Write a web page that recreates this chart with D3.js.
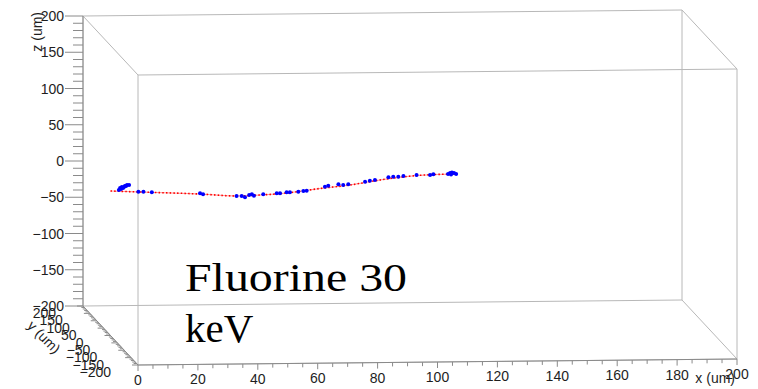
<!DOCTYPE html>
<html><head><meta charset="utf-8">
<script src="https://cdn.jsdelivr.net/npm/d3@7"></script>
<style>html,body{margin:0;padding:0;background:#fff;} svg{display:block;}</style>
</head><body>
<svg id="chart" width="758" height="389"></svg>
<script>
// ---- data ----
const xTickLabels = [0, 20, 40, 60, 80, 100, 120, 140, 160, 180, 200];
const yTickLabels = [-200, -150, -100, -50, 0, 50, 100, 150, 200];
const zTickLabels = [-200, -150, -100, -50, 0, 50, 100, 150, 200];
const axisTitles = ["x (um)", "y (um)", "z (um)"];
const caption = ["Fluorine 30", "keV"];
const trackPlaneY = 0; // depth of the track (um)

// simulated trajectory (red)
const pathX = [0, 9.9, 29.9, 42.2, 49.9, 58.9, 70, 80, 90, 103, 115];
const pathZ = [-0.7, -2.5, -6.1, -9.3, -8.3, -5.9, -0.1, 4.3, 10.8, 16.6, 18];

// deposited hits (blue)
const hitX = [2.8, 3.5, 3.8, 4.5, 4.8, 5.5, 6.2, 4.2, 5.2, 3.2,
  9.3, 11.0, 13.8, 29.9, 30.9, 42.1, 43.8, 44.9, 46.3, 47.2, 47.9, 51.0,
  55.5, 56.6, 58.8, 59.9, 62.7, 64.4, 65.5, 71.6, 72.7, 76.1, 77.7, 79.4,
  85.0, 86.6, 88.3, 92.8, 94.4, 96.1, 97.8, 102.2, 106.7, 107.8,
  112.7, 113.4, 114.0, 114.7, 115.4, 113.7];
const hitZ = [0.6, 1.9, 4.7, 4.6, 6.0, 7.4, 7.3, 3.3, 6.0, 3.3,
  -2.0, -2.1, -3.1, -5.1, -6.5, -9.3, -9.4, -11.3, -8.1, -7.2, -9.2, -7.4,
  -6.2, -6.2, -4.9, -5.0, -4.3, -3.4, -3.0, 2.3, 3.6, 5.4, 4.4, 5.3,
  8.6, 9.9, 10.8, 14.4, 15.1, 15.1, 16.0, 17.1, 17.0, 17.9,
  18.1, 19.5, 20.1, 19.4, 18.0, 17.4];

// ---- projection ----
const svg = d3.select("#chart");
const xScale = d3.scaleLinear().domain([0, 200]).range([0, 599]);
const yScale = d3.scaleLinear().domain([-200, 200]).range([0, 1]);
const zScale = d3.scaleLinear().domain([-200, 200]).range([0, 290]);
const O = [138, 365], depth = [-55, -59], xRise = 6 / 599;
function P(x, y, z) {
  const px = xScale(x), d = yScale(y), pz = zScale(z);
  return [O[0] + px + depth[0] * d, O[1] - px * xRise - pz + depth[1] * d];
}

// ---- box ----
const xs = xScale.domain(), ys = yScale.domain(), zs = zScale.domain();
const edges = [];
for (const y of ys) for (const z of zs) edges.push([[xs[0], y, z], [xs[1], y, z]]);
for (const x of xs) for (const z of zs) edges.push([[x, ys[0], z], [x, ys[1], z]]);
for (const x of xs) for (const y of ys) edges.push([[x, y, zs[0]], [x, y, zs[1]]]);
svg.append("g").selectAll("line").data(edges).join("line")
  .attr("x1", d => P(...d[0])[0]).attr("y1", d => P(...d[0])[1])
  .attr("x2", d => P(...d[1])[0]).attr("y2", d => P(...d[1])[1])
  .attr("stroke", "#b8b8b8").attr("stroke-width", 1);

const axisCol = "#8a8a8a", textCol = "#1e1e1e";
const font = "'Liberation Sans', Arial, Helvetica, sans-serif";
const fs = 14;
const ax = svg.append("g");
const fmt = d => d === 0 ? "0" : (d < 0 ? "\u2212" + (-d) : String(d));

// z axis (back-left vertical)
const zAll = d3.range(-200, 201, 10);
ax.selectAll(".zt").data(zAll).join("line")
  .attr("x1", d => P(0, 200, d)[0]).attr("y1", d => P(0, 200, d)[1])
  .attr("x2", d => P(0, 200, d)[0] - (zTickLabels.includes(d) ? 18 : 10))
  .attr("y2", d => P(0, 200, d)[1])
  .attr("stroke", axisCol);
ax.selectAll(".zl").data(zTickLabels).join("text")
  .attr("x", d => P(0, 200, d)[0] - 19).attr("y", d => P(0, 200, d)[1] + 5)
  .attr("text-anchor", "end").attr("font-family", font).attr("font-size", fs)
  .attr("fill", textCol).text(fmt);
ax.append("text").attr("transform", "translate(42,12) rotate(-90)")
  .attr("text-anchor", "end").attr("font-family", font).attr("font-size", 14)
  .attr("fill", textCol).text(axisTitles[2]);

// x axis (front-bottom)
const xAll = d3.range(0, 201, 5);
ax.selectAll(".xt").data(xAll).join("line")
  .attr("x1", d => P(d, -200, -200)[0]).attr("y1", d => P(d, -200, -200)[1])
  .attr("x2", d => P(d, -200, -200)[0])
  .attr("y2", d => P(d, -200, -200)[1] + (xTickLabels.includes(d) ? 6 : 4))
  .attr("stroke", axisCol);
ax.selectAll(".xl").data(xTickLabels).join("text")
  .attr("x", d => P(d, -200, -200)[0]).attr("y", d => P(d, -200, -200)[1] + 20)
  .attr("text-anchor", "middle").attr("font-family", font).attr("font-size", fs)
  .attr("fill", textCol).text(d => d);
ax.append("text").attr("x", 735).attr("y", 383)
  .attr("text-anchor", "end").attr("font-family", font).attr("font-size", 14)
  .attr("fill", textCol).text(axisTitles[0]);

// y axis (left-bottom depth edge)
const yAll = d3.range(-200, 201, 10);
ax.selectAll(".yt").data(yAll).join("line")
  .attr("x1", d => P(0, d, -200)[0]).attr("y1", d => P(0, d, -200)[1])
  .attr("x2", d => P(0, d, -200)[0] - (yTickLabels.includes(d) ? 6 : 3))
  .attr("y2", d => P(0, d, -200)[1])
  .attr("stroke", axisCol);
ax.selectAll(".yl").data(yTickLabels).join("text")
  .attr("x", d => P(0, d, -200)[0] - 27).attr("y", d => P(0, d, -200)[1] + 12)
  .attr("text-anchor", "end").attr("font-family", font).attr("font-size", fs)
  .attr("fill", textCol).text(fmt);
ax.append("text").attr("transform", "translate(44,337) rotate(45)")
  .attr("text-anchor", "middle").attr("dominant-baseline", "central")
  .attr("font-family", font).attr("font-size", 14)
  .attr("fill", textCol).text(axisTitles[1]);

// ---- axis lines over the box ----
const axisLines = [
  [[0, 200, -200], [0, 200, 200]],
  [[0, -200, -200], [200, -200, -200]],
  [[0, -200, -200], [0, 200, -200]]
];
ax.selectAll(".al").data(axisLines).join("line")
  .attr("x1", d => P(...d[0])[0]).attr("y1", d => P(...d[0])[1])
  .attr("x2", d => P(...d[1])[0]).attr("y2", d => P(...d[1])[1])
  .attr("stroke", axisCol);

// ---- track ----
const pathPts = pathX.map((x, i) => P(x, trackPlaneY, pathZ[i]));
const line = d3.line().curve(d3.curveMonotoneX);
svg.append("path").attr("d", line(pathPts)).attr("fill", "none")
  .attr("stroke", "#ff9a9a").attr("stroke-width", 1);
svg.append("path").attr("d", line(pathPts)).attr("fill", "none")
  .attr("stroke", "#ff0000").attr("stroke-width", 1.6).attr("stroke-dasharray", "1.5,2.2");

svg.append("g").selectAll("circle").data(hitX.map((x, i) => P(x, trackPlaneY, hitZ[i])))
  .join("circle").attr("cx", d => d[0]).attr("cy", d => d[1]).attr("r", 2)
  .attr("fill", "#0000ff");

// ---- caption ----
const serif = "'Liberation Serif', 'Times New Roman', serif";
svg.append("text").attr("x", 185).attr("y", 291).attr("font-family", serif)
  .attr("font-size", 41).attr("fill", "#000")
  .attr("textLength", 222).attr("lengthAdjust", "spacingAndGlyphs").text(caption[0]);
svg.append("text").attr("x", 185).attr("y", 342).attr("font-family", serif)
  .attr("font-size", 41).attr("fill", "#000").text(caption[1]);
</script>
</body></html>
